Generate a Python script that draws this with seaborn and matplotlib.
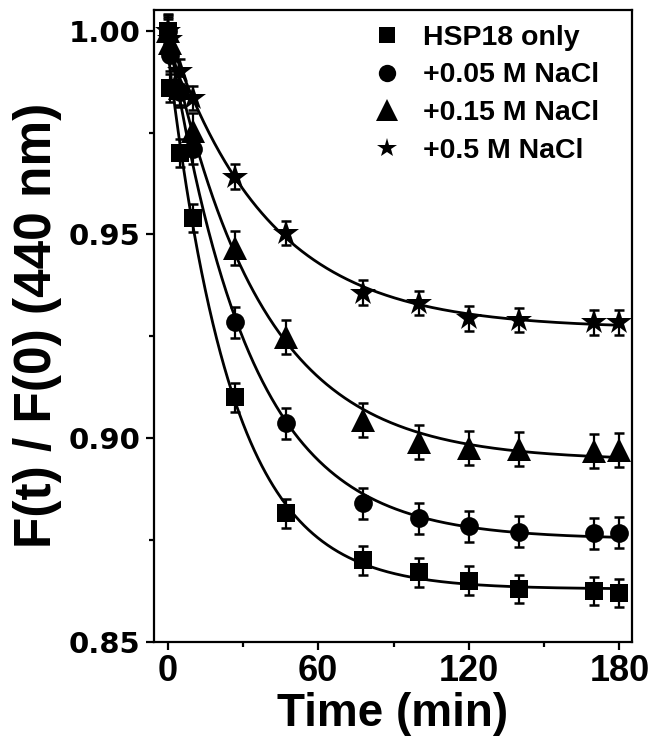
import numpy as np
import pandas as pd
import matplotlib
matplotlib.use("Agg")
import matplotlib.pyplot as plt
from matplotlib.lines import Line2D
from matplotlib.ticker import MultipleLocator, FormatStrFormatter
import seaborn as sns

# ---- data -------------------------------------------------------------
time_min = [0, 1, 5, 10, 27, 47, 78, 100, 120, 140, 170, 180]

series_names = ["HSP18 only", "+0.05 M NaCl", "+0.15 M NaCl", "+0.5 M NaCl"]

hsp18_only = [1.000, 0.986, 0.970, 0.954, 0.910, 0.8815, 0.870, 0.867, 0.865, 0.863, 0.8625, 0.862]
nacl_005 = [1.000, 0.994, 0.985, 0.971, 0.9284, 0.9036, 0.884, 0.8803, 0.8783, 0.877, 0.8766, 0.8768]
nacl_015 = [1.000, 0.997, 0.986, 0.9755, 0.9466, 0.9249, 0.9044, 0.8991, 0.8975, 0.8973, 0.8968, 0.8971]
nacl_05 = [1.000, 0.998, 0.990, 0.9835, 0.9642, 0.9504, 0.9357, 0.9331, 0.9294, 0.9290, 0.9284, 0.9284]

err_hsp18 = [0.0035, 0.0035, 0.0035, 0.0035, 0.0035, 0.0035, 0.0035, 0.0035, 0.0035, 0.0035, 0.0035, 0.0035]
err_005 = [0.0038, 0.0038, 0.0038, 0.0038, 0.0038, 0.0038, 0.0038, 0.0038, 0.0038, 0.0038, 0.0038, 0.0038]
err_015 = [0.0042, 0.0042, 0.0042, 0.0042, 0.0042, 0.0042, 0.0042, 0.0042, 0.0042, 0.0042, 0.0042, 0.0042]
err_05 = [0.0030, 0.0030, 0.0030, 0.0030, 0.0030, 0.0030, 0.0030, 0.0030, 0.0030, 0.0030, 0.0030, 0.0030]

x_ticks = [0, 60, 120, 180]
y_ticks = [0.85, 0.90, 0.95, 1.00]

values = [hsp18_only, nacl_005, nacl_015, nacl_05]
errors = [err_hsp18, err_005, err_015, err_05]
markers = ["s", "o", "^", "*"]
marker_sizes = [13, 13.5, 17.5, 19]
legend_marker_sizes = [11, 12.5, 16, 15]

# long-form table of the measurements
rows = []
for name, vals, errs in zip(series_names, values, errors):
    for t, v, e in zip(time_min, vals, errs):
        rows.append({"series": name, "time": t, "ratio": v, "err": e})
points = pd.DataFrame(rows)


def fit_single_exp(t, y):
    """Least-squares fit of y = A + B*exp(-t/tau) by scanning tau."""
    t = np.asarray(t, float)
    y = np.asarray(y, float)
    best = None
    for tau in np.linspace(3, 120, 1171):
        X = np.column_stack([np.ones_like(t), np.exp(-t / tau)])
        coef, *_ = np.linalg.lstsq(X, y, rcond=None)
        sse = np.sum((X @ coef - y) ** 2)
        if best is None or sse < best[0]:
            best = (sse, coef, tau)
    return best[1], best[2]


t_fine = np.linspace(0, 180, 600)
curve_rows = []
for name, vals in zip(series_names, values):
    (a, b), tau = fit_single_exp(time_min, vals)
    for tf in t_fine:
        curve_rows.append({"series": name, "time": tf, "ratio": a + b * np.exp(-tf / tau)})
curves = pd.DataFrame(curve_rows)

# ---- figure -------------------------------------------------------------
sns.set_theme(style="ticks")
plt.rcParams["font.family"] = ["Liberation Sans", "DejaVu Sans"]
plt.rcParams["font.weight"] = "bold"
for key in ["text.color", "axes.labelcolor", "xtick.color", "ytick.color",
            "xtick.labelcolor", "ytick.labelcolor", "axes.edgecolor"]:
    plt.rcParams[key] = "black"

fig = plt.figure(figsize=(6.52, 7.51), dpi=100)
ax = fig.add_axes([0.2367, 0.1455, 0.7322, 0.8412])

# fitted decay curves
sns.lineplot(data=curves, x="time", y="ratio", units="series", estimator=None,
             color="black", linewidth=2.0, ax=ax, legend=False, zorder=2)

# error bars and markers
for name, mk, ms in zip(series_names, markers, marker_sizes):
    sub = points[points["series"] == name]
    ax.errorbar(sub["time"], sub["ratio"], yerr=sub["err"], fmt="none",
                ecolor="black", elinewidth=1.6, capsize=3.5, capthick=1.8, zorder=3)
    ax.plot(sub["time"], sub["ratio"], linestyle="none", marker=mk,
            markersize=ms, color="black", markeredgewidth=0, zorder=4)

ax.set_xlim(-5.3, 184.9)
ax.set_ylim(0.85, 1.0051)
ax.set_xticks(x_ticks)
ax.set_yticks(y_ticks)
ax.xaxis.set_minor_locator(MultipleLocator(30))
ax.yaxis.set_minor_locator(MultipleLocator(0.025))
ax.yaxis.set_major_formatter(FormatStrFormatter("%.2f"))

for side in ["top", "right", "bottom", "left"]:
    ax.spines[side].set_visible(True)
    ax.spines[side].set_linewidth(1.6)
    ax.spines[side].set_color("black")

ax.tick_params(axis="both", which="major", direction="out", length=6,
               width=1.6, color="black", labelcolor="black")
ax.tick_params(axis="both", which="minor", direction="out", length=3.5,
               width=1.6, color="black")
ax.tick_params(axis="x", which="major", pad=3)
ax.tick_params(axis="y", which="major", pad=4)

for lbl in ax.get_xticklabels():
    lbl.set_fontfamily(["Liberation Sans Narrow", "Liberation Sans"])
    lbl.set_fontsize(26)
    lbl.set_fontweight("bold")
for lbl in ax.get_yticklabels():
    lbl.set_fontfamily(["DejaVu Sans"])
    lbl.set_fontsize(21)
    lbl.set_fontweight("bold")

ax.set_xlabel("Time (min)", fontsize=33, fontweight="bold", labelpad=2, color="black")
ax.set_ylabel("F(t) / F(0) (440 nm)", fontsize=37, fontweight="bold", labelpad=5,
              color="black")

handles = [Line2D([], [], linestyle="none", marker=mk, markersize=ms,
                  color="black", markeredgewidth=0)
           for mk, ms in zip(markers, legend_marker_sizes)]
leg = ax.legend(handles, series_names, loc="upper right", frameon=False,
                prop={"family": "Liberation Sans", "weight": "bold", "size": 20.5},
                handlelength=1.0, handletextpad=0.75, labelspacing=0.42,
                borderaxespad=0.0, bbox_to_anchor=(0.955, 0.995))
for txt in leg.get_texts():
    txt.set_color("black")

fig.savefig("out.png", dpi=100)
